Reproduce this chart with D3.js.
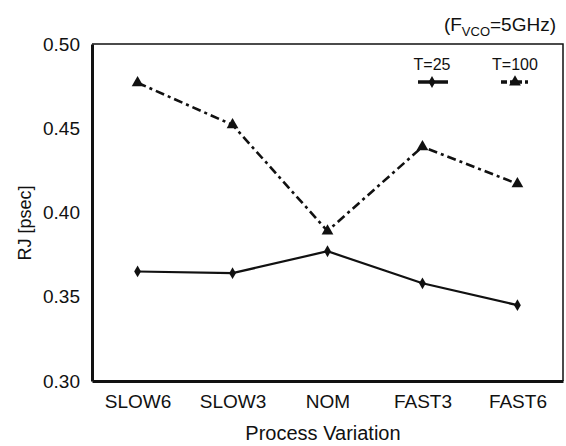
<!DOCTYPE html>
<html lang="en">
  <head>
    <meta charset="UTF-8" />
    <title>RJ vs Process Variation</title>
    <style>
      body {
        margin: 0;
        background: #fff;
      }
      text {
        font-family: "Liberation Sans", Arial, sans-serif;
        fill: #111;
      }
    </style>
  </head>
  <body>
    <div id="chart"></div>

    <script src="https://cdn.jsdelivr.net/npm/d3@7"></script>

    <script>
      //Data
      var categories = ["SLOW6", "SLOW3", "NOM", "FAST3", "FAST6"];
      var rjT25 = [0.365, 0.364, 0.377, 0.358, 0.345];
      var rjT100 = [0.477, 0.452, 0.389, 0.439, 0.417];
      var yTicks = [0.3, 0.35, 0.4, 0.45, 0.5];

      var width = 566,
        height = 446;
      var plot = { left: 92, right: 563, top: 44, bottom: 381 };

      var svg = d3
        .select("#chart")
        .append("svg")
        .attr("width", width)
        .attr("height", height);

      var x = d3
        .scalePoint()
        .domain(categories)
        .range([plot.left, plot.right])
        .padding(0.48);

      var y = d3
        .scaleLinear()
        .domain([0.3, 0.5])
        .range([plot.bottom, plot.top]);

      //Frame: heavy left and bottom, light top and right
      svg
        .append("path")
        .attr(
          "d",
          "M" + plot.left + "," + plot.top + "H" + plot.right + "V" + plot.bottom
        )
        .style("fill", "none")
        .style("stroke", "#111")
        .style("stroke-width", 1.5);

      //Axes (no tick marks, only labels)
      var yAxis = svg
        .append("g")
        .attr("transform", "translate(" + plot.left + ",0)")
        .call(
          d3
            .axisLeft(y)
            .tickValues(yTicks)
            .tickFormat(d3.format(".2f"))
            .tickSize(0)
            .tickPadding(12)
        );
      yAxis.select(".domain").style("stroke", "#111").style("stroke-width", 3);
      yAxis
        .selectAll("text")
        .style("font-size", "19px")
        .style("font-family", "'Liberation Sans', Arial, sans-serif");

      var xAxis = svg
        .append("g")
        .attr("transform", "translate(0," + plot.bottom + ")")
        .call(d3.axisBottom(x).tickSize(0).tickPadding(14));
      xAxis.select(".domain").style("stroke", "#111").style("stroke-width", 3);
      xAxis
        .selectAll("text")
        .style("font-size", "19px")
        .style("font-family", "'Liberation Sans', Arial, sans-serif");

      //Axis titles
      svg
        .append("text")
        .attr("x", 323)
        .attr("y", 440)
        .attr("text-anchor", "middle")
        .style("font-size", "20px")
        .text("Process Variation");

      svg
        .append("text")
        .attr("transform", "translate(31,223) rotate(-90)")
        .attr("text-anchor", "middle")
        .style("font-size", "18px")
        .text("RJ [psec]");

      //Condition note top right
      var note = svg
        .append("text")
        .attr("x", 556)
        .attr("y", 31)
        .attr("text-anchor", "end")
        .style("font-size", "19px");
      note.append("tspan").text("(F");
      note
        .append("tspan")
        .attr("dy", 5)
        .style("font-size", "13px")
        .text("VCO");
      note.append("tspan").attr("dy", -5).text("=5GHz)");

      //Lines
      var line = d3
        .line()
        .x(function(d, i) {
          return x(categories[i]);
        })
        .y(function(d) {
          return y(d);
        });

      svg
        .append("path")
        .datum(rjT25)
        .attr("d", line)
        .style("fill", "none")
        .style("stroke", "#111")
        .style("stroke-width", 2.2);

      svg
        .append("path")
        .datum(rjT100)
        .attr("d", line)
        .style("fill", "none")
        .style("stroke", "#111")
        .style("stroke-width", 2.6)
        .style("stroke-dasharray", "9,4,3,4");

      //Markers
      var diamond = d3.symbol().type(d3.symbolDiamond).size(40);
      var tri = d3.symbol().type(d3.symbolTriangle).size(60);

      svg
        .selectAll(".m25")
        .data(rjT25)
        .enter()
        .append("path")
        .attr("class", "m25")
        .attr("d", diamond)
        .attr("transform", function(d, i) {
          return "translate(" + x(categories[i]) + "," + y(d) + ")";
        })
        .style("fill", "#111");

      svg
        .selectAll(".m100")
        .data(rjT100)
        .enter()
        .append("path")
        .attr("class", "m100")
        .attr("d", tri)
        .attr("transform", function(d, i) {
          return "translate(" + x(categories[i]) + "," + y(d) + ")";
        })
        .style("fill", "#111");

      //Legend
      var legend = [
        { label: "T=25", x: 432, dash: null, w: 3.5, sym: diamond },
        { label: "T=100", x: 515, dash: "6,3,3,3", w: 3.5, sym: tri }
      ];
      legend.forEach(function(l) {
        svg
          .append("text")
          .attr("x", l.x)
          .attr("y", 70)
          .attr("text-anchor", "middle")
          .style("font-size", "16px")
          .text(l.label);
        svg
          .append("line")
          .attr("x1", l.x - 14)
          .attr("x2", l.x + 16)
          .attr("y1", 82)
          .attr("y2", 82)
          .style("stroke", "#111")
          .style("stroke-width", l.w)
          .style("stroke-dasharray", l.dash);
        svg
          .append("path")
          .attr("d", l.sym)
          .attr("transform", "translate(" + l.x + ",82)")
          .style("fill", "#111");
      });
    </script>
  </body>
</html>
